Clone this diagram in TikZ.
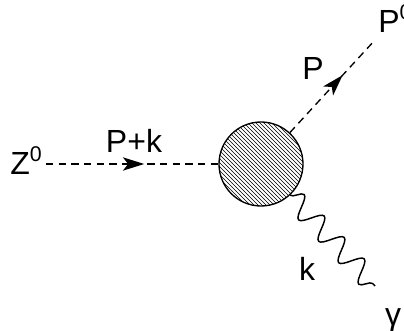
\documentclass[tikz,border=0pt]{standalone}
\usepackage{fontspec}
\setmainfont{Liberation Sans}
\usetikzlibrary{arrows.meta,decorations.markings,decorations.pathmorphing,patterns}

\newcommand{\supr}[1]{\raisebox{10pt}{\fontsize{16}{16}\selectfont #1}}

\tikzset{
  scalar/.style={line width=1pt, dash pattern=on 5.5pt off 4pt,
    postaction={decorate, solid},
    decoration={markings, mark=at position #1 with {\arrow{Stealth[length=16pt,width=10pt,inset=4pt]}}}},
  photon/.style={line width=1.1pt, decorate,
    decoration={snake, amplitude=8pt, segment length=22pt}},
  blob/.style={circle, draw, line width=1pt, minimum size=63pt, inner sep=0pt,
    pattern=north west lines},
  lbl/.style={font=\fontsize{24}{28}\selectfont, inner sep=3pt}
}

\begin{document}
\begin{tikzpicture}[x=0.75pt,y=-0.75pt]
\useasboundingbox (0,0) rectangle (404,331);
% vertex
\node[blob] (blob) at (261,164) {};
% incoming Z line
\node[lbl, anchor=base west] (z) at (6,175) {Z\supr{0}};
\draw[scalar=0.57] (z.east |- blob.west) -- (blob.west);
\node[lbl] (pk) at (134,141) {P+k};
% outgoing P line
\coordinate (pend) at (375,40);
\node[lbl, anchor=base west] (p0) at (374,33) {P\supr{0}};
\draw[scalar=0.62] (blob) -- (pend);
\node[lbl] (p) at (313,68) {P};
% photon
\coordinate (gend) at (375,286);
\draw[photon] (blob) -- (gend);
\node[lbl] (k) at (307,269) {k};
\node[lbl] (gamma) at (393,320) {γ};
\end{tikzpicture}
\end{document}
